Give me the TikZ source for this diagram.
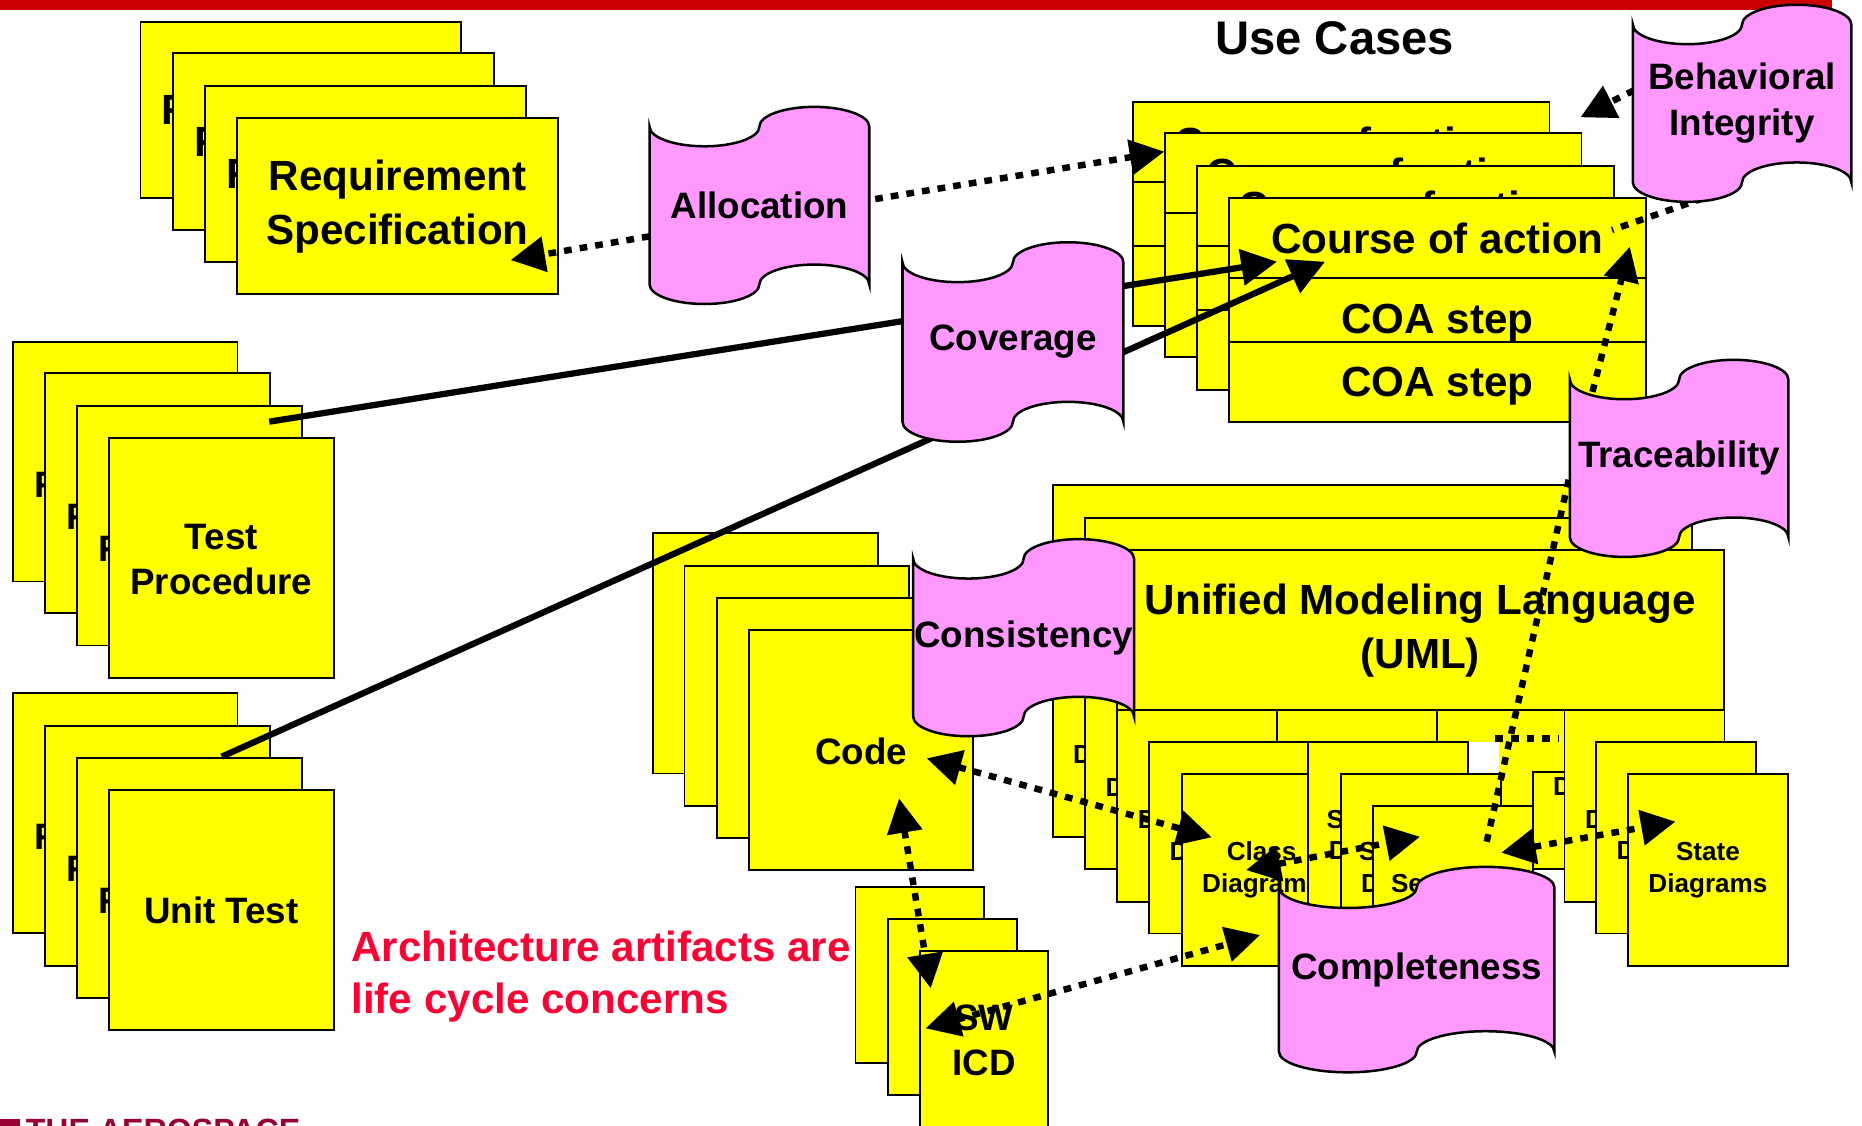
\documentclass[tikz,border=0pt]{standalone}
\usepackage{fontspec}
\setmainfont{Liberation Sans}
\usetikzlibrary{arrows.meta}
\definecolor{boxyellow}{RGB}{255,255,0}
\definecolor{tapepink}{RGB}{255,153,255}
\definecolor{barred}{RGB}{204,0,0}
\definecolor{msgred}{RGB}{255,0,51}
\definecolor{logored}{RGB}{153,0,51}
\newlength{\unitS}
\setlength{\unitS}{0.01cm}
\newcommand{\fbig}{\fontsize{10.1}{12.8}\selectfont\bfseries}
\newcommand{\fmid}{\fontsize{8.8}{10.9}\selectfont\bfseries}
\newcommand{\fsmall}{\fontsize{6.25}{7.6}\selectfont\bfseries}
\newcommand{\ftitle}{\fontsize{11.3}{13}\selectfont\bfseries}
\newcommand{\fred}{\fontsize{10.1}{12.4}\selectfont\bfseries}
\tikzset{
  ybox/.style={draw=black, line width=0.45pt, fill=boxyellow, inner sep=0pt, outer sep=0pt, anchor=north west},
  divline/.style={draw=black, line width=0.45pt},
  tapefill/.style={draw=black, line width=0.6pt, fill=tapepink},
  lbl/.style={inner sep=0pt, outer sep=0pt, align=center, text=black},
  solidarrow/.style={line width=1.5pt, -{Triangle[length=0.3cm, width=0.3cm]}},
  dotconn/.style={line width=1.55pt, dash pattern=on 0.065cm off 0.068cm},
  tipend/.style={-{Triangle[length=0.29cm, width=0.29cm]}},
  tipboth/.style={{Triangle[length=0.29cm, width=0.29cm]}-{Triangle[length=0.29cm, width=0.29cm]}},
}
\newcommand{\ybox}[5]{\node[ybox, minimum width=#4\unitS, minimum height=#5\unitS] (#1) at (#2,#3) {};}
\newcommand{\ucbox}[3]{%
  \ybox{#1}{#2}{#3}{350.7}{188.6}
  \draw[divline] (#2,#3+67.3) -- ++(350.7,0);
  \draw[divline] (#2,#3+121.2) -- ++(350.7,0);
  \node[lbl, font=\fbig, anchor=base] (#1a) at (#2+175.35,#3+46.8) {Course of action};
  \node[lbl, font=\fbig, anchor=base] (#1b) at (#2+175.35,#3+114.2) {COA step};
  \node[lbl, font=\fbig, anchor=base] (#1c) at (#2+175.35,#3+167.5) {COA step};}
\newcommand{\dgbox}[4]{% name x y text
  \ybox{#1}{#2}{#3}{134.7}{161.5}
  \node[lbl, font=\fsmall] (#1t) at (#2+67.35,#3+80.75) {#4};}
\newcommand{\tapeshape}[6]{%
  \begin{scope}[shift={(#2,#3)}, xscale=#4, yscale=#5]
    \path[tapefill] (0,0.1) .. controls (0,0.1552) and (0.1119,0.2) .. (0.25,0.2)
      .. controls (0.3881,0.2) and (0.5,0.1552) .. (0.5,0.1)
      .. controls (0.5,0.0448) and (0.6119,0) .. (0.75,0)
      .. controls (0.8881,0) and (1,0.0448) .. (1,0.1)
      -- (1,0.9)
      .. controls (1,0.8448) and (0.8881,0.8) .. (0.75,0.8)
      .. controls (0.6119,0.8) and (0.5,0.8448) .. (0.5,0.9)
      .. controls (0.5,0.9552) and (0.3881,1) .. (0.25,1)
      .. controls (0.1119,1) and (0,0.9552) .. (0,0.9) -- cycle;
  \end{scope}
  \node[lbl, font=\fmid, minimum width=#4\unitS, minimum height=#5\unitS] (#1) at ({#2+#4/2},{#3+#5/2}) {#6};}
\begin{document}
\begin{tikzpicture}[x=0.01cm, y=-0.01cm]
\useasboundingbox (0,0) rectangle (1568,948);
\clip (0,0) rectangle (1568,948);
\fill[white] (0,0) rectangle (1568,948);
\fill[barred] (0,0) rectangle (1543,8.4);
\node[lbl, font=\ftitle, anchor=base] (title) at (1124,46.3) {Use Cases};

% Requirement specification stack
\ybox{rq1}{118.3}{18.2}{270}{148.5}
\node[lbl, font=\fbig, anchor=west] (rq1r) at (136,92.5) {R};
\ybox{rq2}{145.7}{44.9}{270}{148.5}
\node[lbl, font=\fbig, anchor=west] (rq2r) at (163.4,119.2) {R};
\ybox{rq3}{172.7}{72.1}{270}{148.5}
\node[lbl, font=\fbig, anchor=west] (rq3r) at (190.4,146.4) {R};
\ybox{rq4}{199.7}{99.1}{270}{148.5}
\node[lbl, font=\fbig] (rq4t) at (334.7,174) {Requirement\\Specification};

% Test procedure stack
\ybox{tp1}{10.7}{287.7}{189.3}{202}
\node[lbl, font=\fmid, anchor=west] (tp1r) at (29.3,408.7) {R};
\ybox{tp2}{37.7}{314.4}{189.3}{202}
\node[lbl, font=\fmid, anchor=west] (tp2r) at (56.3,435.4) {R};
\ybox{tp3}{64.7}{341.6}{189.3}{202}
\node[lbl, font=\fmid, anchor=west] (tp3r) at (83.3,462.6) {R};
\ybox{tp4}{91.7}{368.6}{189.3}{202}
\node[lbl, font=\fmid] (tp4t) at (186.4,471) {Test\\Procedure};

% Unit test stack
\ybox{ut1}{10.7}{583.9}{189.3}{202}
\node[lbl, font=\fmid, anchor=west] (ut1r) at (29.3,704.4) {R};
\ybox{ut2}{37.7}{611.1}{189.3}{202}
\node[lbl, font=\fmid, anchor=west] (ut2r) at (56.3,731.6) {R};
\ybox{ut3}{64.7}{638.1}{189.3}{202}
\node[lbl, font=\fmid, anchor=west] (ut3r) at (83.3,758.6) {R};
\ybox{ut4}{91.7}{665.3}{189.3}{202}
\node[lbl, font=\fmid] (ut4t) at (186.4,766.3) {Unit Test};

% Use cases stack
\ucbox{uc1}{954.1}{85.6}
\ucbox{uc2}{981.1}{112.3}
\ucbox{uc3}{1008.1}{139.8}
\ucbox{uc4}{1035.1}{166.5}

% Code stack
\ybox{cd1}{549.8}{449.1}{189.3}{202.3}
\ybox{cd2}{576.4}{476.3}{189.3}{202.3}
\ybox{cd3}{603.8}{503.3}{189.3}{202.3}
\ybox{cd4}{630.4}{530.2}{189.3}{202.3}
\node[lbl, font=\fmid] (cd4t) at (725.1,633) {Code};

% SW ICD stack
\ybox{sw1}{720.4}{747.2}{108.4}{148.2}
\ybox{sw2}{747.8}{774.2}{108.4}{148.2}
\ybox{sw3}{774.4}{800.8}{108.4}{148.2}
\node[lbl, font=\fmid] (sw3t) at (828.6,876) {SW\\ICD};

% UML stack
\ybox{uh0}{886.5}{408.4}{511}{134.7}
\dgbox{cl0}{886.5}{543.1}{Class\\Diagrams}
\ybox{uh1}{913.7}{435.9}{511}{134.7}
\dgbox{cl1}{913.7}{570.6}{Class\\Diagrams}
\dgbox{st1}{1290.7}{570.6}{State\\Diagrams}
\ybox{uh2}{940.5}{463.2}{511}{134.7}
\node[lbl, font=\fbig] (uh2t) at (1196,531) {Unified Modeling Language\\(UML)};
\dgbox{cl2}{941}{597.9}{Class\\Diagrams}
\dgbox{sq2}{1075.1}{597.9}{Sequence\\Diagrams}
\ybox{ux2}{1209.9}{597.9}{134.7}{51.9}
\fill[white] (1236.5,624.6) rectangle (1262.5,651.8);
\fill[boxyellow] (1262.5,648.5) rectangle (1289.8,680);
\dgbox{st2}{1317.5}{597.9}{State\\Diagrams}
\dgbox{cl3}{967.6}{624.6}{Class\\Diagrams}
\dgbox{cl4}{995.1}{651.8}{Class\\Diagrams}
\dgbox{sq3}{1101.8}{624.6}{Sequence\\Diagrams}
\dgbox{sq4}{1129}{651.8}{Sequence\\Diagrams}
\dgbox{sq5}{1156}{678.8}{Sequence\\Diagrams}
\dgbox{st3}{1344.2}{624.6}{State\\Diagrams}
\dgbox{st4}{1370.9}{651.8}{State\\Diagrams}

% red message and logo
\node[lbl, font=\fred, anchor=base west, text=msgred] (msg1) at (296,809.9) {Architecture artifacts are};
\node[lbl, font=\fred, anchor=base west, text=msgred] (msg2) at (296,853.4) {life cycle concerns};
\fill[logored] (0,942) rectangle (16.7,960);
\node[lbl, anchor=north west, text=logored, font={\fontsize{7.7}{9}\selectfont\bfseries}] (logo) at (21.7,942) {THE AEROSPACE};

% connector end points
\coordinate (s1a) at (226.7,355.1);
\coordinate (s1b) at (1075.3,220.4);
\coordinate (s2a) at (186.7,637.2);
\coordinate (s2b) at (1115.8,220.4);
\coordinate (d1a) at (547,199);
\coordinate (d1b) at (430,219);
\coordinate (d2a) at (737,167.6);
\coordinate (d2b) at (980.4,127.7);
\coordinate (d3a) at (1376,76);
\coordinate (d3b) at (1330.9,98.8);
\coordinate (d3c) at (1434,167);
\coordinate (d3d) at (1357.5,193.7);
\coordinate (d4a) at (1341,330);
\coordinate (d4b) at (1372.5,207.7);
\coordinate (d5a) at (1321,404);
\coordinate (d5b) at (1251,713);
\coordinate (d6a) at (780.4,638.6);
\coordinate (d6b) at (1020.4,705.1);
\coordinate (d7a) at (757.1,672.3);
\coordinate (d7b) at (783.8,832.3);
\coordinate (d8a) at (779.4,866);
\coordinate (d8b) at (1061.1,787.4);
\coordinate (d9a) at (1049.3,732.7);
\coordinate (d9b) at (1195.8,704.6);
\coordinate (d10a) at (1264.2,718);
\coordinate (d10b) at (1410.9,691.9);
\coordinate (d11a) at (1259,621.7);
\coordinate (d11b) at (1313,621.7);

% solid arrows (coverage)
\draw[solidarrow] (s1a) -- (s1b);
\draw[solidarrow] (s2a) -- (s2b);

% dotted connectors
\draw[dotconn, tipend] (d1a) -- (d1b);
\draw[dotconn, tipend] (d2a) -- (d2b);
\draw[dotconn, tipend] (d3a) -- (d3b);
\draw[dotconn] (d3c) -- (d3d);
\draw[dotconn, tipend] (d4a) -- (d4b);
\draw[dotconn] (d5a) -- (d5b);
\draw[dotconn] (d11a) -- (d11b);
\draw[dotconn, tipboth] (d6a) -- (d6b);
\draw[dotconn, tipboth] (d7a) -- (d7b);
\draw[dotconn, tipboth] (d8a) -- (d8b);
\draw[dotconn, tipboth] (d9a) -- (d9b);
\draw[dotconn, tipboth] (d10a) -- (d10b);

% concern tapes
\tapeshape{alloc}{547}{90}{185}{166}{Allocation}
\tapeshape{cover}{760}{204}{186}{168}{Coverage}
\tapeshape{behav}{1375}{4}{184}{166}{Behavioral\\Integrity}
\tapeshape{trace}{1322}{303}{184}{166}{Traceability}
\tapeshape{consist}{769}{454}{186}{166}{Consistency}
\tapeshape{complete}{1077}{730}{232}{173}{Completeness}
\end{tikzpicture}
\end{document}
